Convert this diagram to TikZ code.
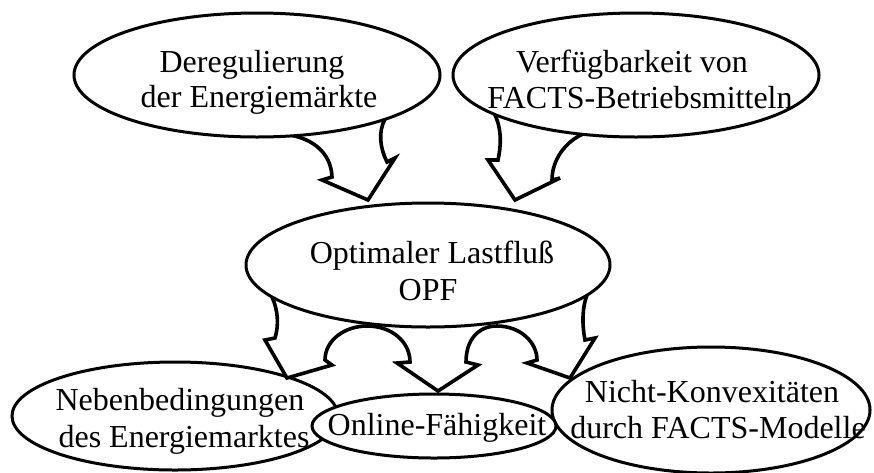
\documentclass[tikz,border=0pt]{standalone}
\usepackage{fontspec}
\setmainfont{Liberation Serif}
\usetikzlibrary{shapes.geometric}
\begin{document}
\begin{tikzpicture}[x=1pt,y=-1pt,
  bubble/.style={ellipse, draw=black, line width=3pt, fill=white, inner sep=0pt, outer sep=0pt},
  txt/.style={font=\fontsize{32}{36}\selectfont, inner sep=0pt, anchor=base, text=black},
  blockarrow/.style={draw=black, fill=white, line width=3.6pt, line join=miter, miter limit=6}]
\useasboundingbox[fill=white] (0,0) rectangle (874,472);

% lower row of bubbles (the small one lies on top of its neighbours)
\node[bubble, minimum width=326pt, minimum height=108pt] (neben)  at (175,416) {};
\node[bubble, minimum width=318pt, minimum height=126pt] (konvex) at (711,410) {};
\node[bubble, minimum width=244pt, minimum height=64pt]  (online) at (434,426) {};

% curved block arrows into the OPF bubble
\draw[blockarrow] (285,118) -- (290,135)
  .. controls (312,139) and (331,152) .. (332,177) -- (322,180) -- (368,200)
  -- (395,158) -- (387,162)
  .. controls (380,148) and (378,132) .. (385,119) -- (380,104) -- cycle;
\draw[blockarrow] (500,102) -- (495,115)
  .. controls (502,130) and (501,146) .. (498,160) -- (488,160) -- (515,200)
  -- (560,178) -- (552,180)
  .. controls (552,160) and (565,142) .. (583,134) -- (585,118) -- cycle;

% curved block arrows out of the OPF bubble
\draw[blockarrow] (275,285) -- (272,297)
  .. controls (278,310) and (279,325) .. (275,338) -- (265,340) -- (287,378)
  -- (332,365) -- (325,360)
  .. controls (325,340) and (345,326) .. (367,326)
  .. controls (392,326) and (410,342) .. (410,362) -- (397,363) -- (438,391)
  -- (478,365) -- (466,362)
  .. controls (466,340) and (478,326) .. (497,326)
  .. controls (520,326) and (537,342) .. (537,360) -- (527,363) -- (570,378)
  -- (595,338) -- (585,340)
  .. controls (582,325) and (582,308) .. (587,295) -- (585,285) -- cycle;

% upper bubbles
\node[bubble, minimum width=366pt, minimum height=124pt] (dereg) at (257,75) {};
\node[bubble, minimum width=366pt, minimum height=124pt] (facts) at (636,75) {};
\node[bubble, minimum width=364pt, minimum height=124pt] (opf)   at (428,265) {};

% texts
\node[txt] (dereg1) at (252,72)  {Deregulierung};
\node[txt] (dereg2) at (259,107) {der Energiemärkte};
\node[txt] (facts1) at (632,72)  {Verfügbarkeit von};
\node[txt] (facts2) at (640,108) {FACTS-Betriebsmitteln};
\node[txt] (opf1)   at (432,263) {Optimaler Lastfluß};
\node[txt] (opf2)   at (428,300) {OPF};
\node[txt] (neben1) at (180,410) {Nebenbedingungen};
\node[txt] (neben2) at (184,447) {des Energiemarktes};
\node[txt] (online1) at (437,435) {Online-Fähigkeit};
\node[txt] (konvex1) at (712,402) {Nicht-Konvexitäten};
\node[txt] (konvex2) at (718,438) {durch FACTS-Modelle};
\end{tikzpicture}
\end{document}
